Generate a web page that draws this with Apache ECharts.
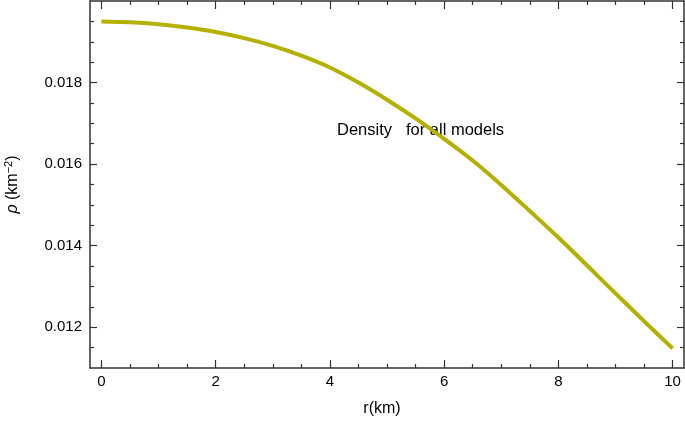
<!DOCTYPE html>
<html>
<head>
<meta charset="utf-8">
<script src="https://cdn.jsdelivr.net/npm/echarts@6/dist/echarts.min.js"></script>
<style>
  html, body { margin: 0; padding: 0; background: #fff; }
  #chart { width: 685px; height: 425px; }
</style>
</head>
<body>
<div id="chart"></div>
<script>
  // radius (km) and density
  const R = [0, 0.5, 1, 1.5, 2, 2.5, 3, 3.5, 4, 4.5, 5, 5.5, 6, 6.5, 7, 7.5, 8, 8.5, 9, 9.5, 10];
  const RHO = [0.01950, 0.01948, 0.01943, 0.01935, 0.01924, 0.01909, 0.01890, 0.01866, 0.01837, 0.01800,
               0.01758, 0.01712, 0.01662, 0.01609, 0.01549, 0.01485, 0.01420, 0.01352, 0.01283, 0.01215, 0.01148];
  const X_TICKS = [0, 2, 4, 6, 8, 10];
  const X_MINOR = [0.5, 1, 1.5, 2.5, 3, 3.5, 4.5, 5, 5.5, 6.5, 7, 7.5, 8.5, 9, 9.5];
  const Y_TICKS = [0.012, 0.014, 0.016, 0.018];
  const Y_MINOR = [0.0115, 0.0125, 0.013, 0.0135, 0.0145, 0.015, 0.0155, 0.0165, 0.017, 0.0175, 0.0185, 0.019, 0.0195];

  const FRAME = '#333';
  const FONT = 'Liberation Sans';

  function xAxisDef(pos, ticks, len, labels, showLine) {
    return {
      type: 'value', position: pos, min: -0.2, max: 10.2,
      axisLine: { show: showLine, onZero: false, lineStyle: { color: FRAME, width: 1.5 } },
      axisTick: { show: true, inside: true, length: len, customValues: ticks, lineStyle: { color: FRAME, width: 1.2 } },
      axisLabel: labels ? { show: true, customValues: ticks, color: '#000', fontSize: 15, fontFamily: FONT, margin: 6 } : { show: false },
      splitLine: { show: false }
    };
  }
  function yAxisDef(pos, ticks, len, labels, showLine) {
    return {
      type: 'value', position: pos, min: 0.011, max: 0.020,
      axisLine: { show: showLine, onZero: false, lineStyle: { color: FRAME, width: 1.5 } },
      axisTick: { show: true, inside: true, length: len, customValues: ticks, lineStyle: { color: FRAME, width: 1.2 } },
      axisLabel: labels ? {
        show: true, customValues: ticks, color: '#000', fontSize: 15, fontFamily: FONT, margin: 8,
        formatter: v => v.toFixed(3)
      } : { show: false },
      splitLine: { show: false }
    };
  }

  const xAxes = [
    xAxisDef('bottom', X_TICKS, 8, true, true),
    xAxisDef('bottom', X_MINOR, 4, false, false),
    xAxisDef('top', X_TICKS, 8, false, true),
    xAxisDef('top', X_MINOR, 4, false, false)
  ];
  xAxes[0].name = 'r(km)';
  xAxes[0].nameLocation = 'middle';
  xAxes[0].nameGap = 33;
  xAxes[0].nameTextStyle = { color: '#000', fontSize: 16, fontFamily: FONT, padding: [0, 10, 0, 0] };

  const yAxes = [
    yAxisDef('left', Y_TICKS, 7, true, true),
    yAxisDef('left', Y_MINOR, 4, false, false),
    yAxisDef('right', Y_TICKS, 7, false, true),
    yAxisDef('right', Y_MINOR, 4, false, false)
  ];
  yAxes[0].name = '{i|ρ} (km{s|−2})';
  yAxes[0].nameLocation = 'middle';
  yAxes[0].nameGap = 68;
  yAxes[0].nameTextStyle = {
    color: '#000', fontSize: 16, fontFamily: FONT,
    rich: {
      i: { fontStyle: 'italic', fontSize: 16, fontFamily: FONT, color: '#000' },
      s: { fontSize: 11, fontFamily: FONT, color: '#000', verticalAlign: 'bottom', padding: [0, 0, 8, 0] }
    }
  };

  const option = {
    backgroundColor: '#fff',
    animation: false,
    grid: { left: 90, right: 1, top: 1, bottom: 57, containLabel: false, outerBoundsMode: 'none' },
    xAxis: xAxes,
    yAxis: yAxes,
    graphic: [{
      type: 'text', left: 337, top: 122,
      style: { text: 'Density', fontSize: 16.5, fontFamily: FONT, fill: '#000' }
    }, {
      type: 'text', left: 406, top: 122,
      style: { text: 'for all models', fontSize: 16.5, fontFamily: FONT, fill: '#000' }
    }],
    series: [{
      type: 'line',
      xAxisIndex: 0, yAxisIndex: 0,
      data: R.map((r, i) => [r, RHO[i]]),
      smooth: 0.3,
      showSymbol: false,
      lineStyle: { color: '#b3b000', width: 4 }
    }]
  };

  echarts.init(document.getElementById('chart')).setOption(option);
</script>
</body>
</html>
